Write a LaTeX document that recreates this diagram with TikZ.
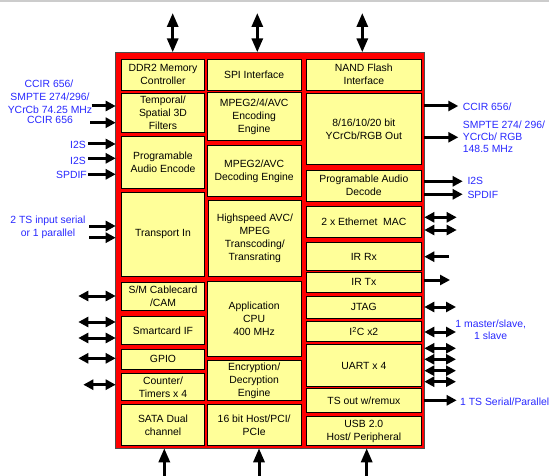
\documentclass[tikz,border=0pt]{standalone}
\usepackage{fontspec}
\setmainfont{Liberation Sans}
\usetikzlibrary{arrows.meta}
\definecolor{lblue}{RGB}{40,40,255}
\definecolor{byel}{RGB}{255,255,153}
\newcommand\blk[6]{\node[blk,minimum width={(#4-#2)*1pt},minimum height={(#5-#3)*1pt}] (#1) at ({(#2+#4)/2},{(#3+#5)/2}) {#6};}
\begin{document}
\begin{tikzpicture}[x=1pt,y=-1pt,
  txt/.style={font=\fontsize{10.4}{13}\selectfont},
  blk/.style={txt,draw=black,line width=0.8pt,fill=byel,align=center,inner sep=1pt,outer sep=0pt},
  lab/.style={txt,text=lblue,inner sep=0pt,align=center},
  ar/.style={line width=3pt,-{Triangle[length=10pt,width=10pt]}},
  dar/.style={line width=3pt,{Triangle[length=10pt,width=10pt]}-{Triangle[length=10pt,width=10pt]}},
  var/.style={line width=3pt,{Triangle[length=14pt,width=11pt]}-{Triangle[length=14pt,width=11pt]}}]
\useasboundingbox (0,0) rectangle (549,476);
\draw[black!20,line width=1.6pt] (0,0.8) -- (549,0.8);
% chip frame
\node[draw=black!70,line width=1pt,fill=red,minimum width=308.6pt,minimum height=396pt,inner sep=0pt,outer sep=0pt] (chip) at (270,250.3) {};
% left column
\blk{ddr}{121.7}{59}{204.3}{90}{DDR2 Memory\\Controller}
\blk{temp}{121.7}{93}{204.3}{132.3}{Temporal/\\Spatial 3D\\Filters}
\blk{aenc}{121.7}{136.7}{204.3}{188.3}{Programable\\Audio Encode}
\blk{tsin}{121.7}{192.3}{204.3}{276.7}{Transport In}
\blk{cam}{121.7}{282.7}{204.3}{310.7}{S/M Cablecard\\/CAM}
\blk{smart}{121.7}{316.7}{204.3}{344}{Smartcard IF}
\blk{gpio}{121.7}{349}{204.3}{369}{GPIO}
\blk{cnt}{121.7}{373}{204.3}{400.7}{Counter/\\Timers x 4}
\blk{sata}{121.7}{404.7}{204.3}{445}{SATA Dual\\channel}
% middle column
\blk{spi}{207.3}{59}{301}{90}{SPI Interface}
\blk{enc}{207.3}{92.7}{301}{140.7}{MPEG2/4/AVC\\Encoding\\Engine}
\blk{dec}{207.3}{145}{301}{196.7}{MPEG2/AVC\\Decoding Engine}
\blk{hs}{208.7}{200.7}{301}{276.7}{Highspeed AVC/\\MPEG\\Transcoding/\\Transrating}
\blk{cpu}{207.3}{281}{301}{356.7}{Application\\CPU\\400 MHz}
\blk{crypt}{207.3}{360.7}{301}{400.7}{Encryption/\\Decryption\\Engine}
\blk{host}{207.3}{404.7}{301}{445}{16 bit Host/PCI/\\PCIe}
% right column
\blk{nand}{306}{59}{421.7}{90}{NAND Flash\\Interface}
\blk{vout}{306}{93.3}{421.7}{164.3}{8/16/10/20 bit\\YCrCb/RGB Out}
\blk{adec}{306}{170}{421.7}{201}{Programable Audio\\Decode}
\blk{eth}{306}{206.7}{421.7}{237.7}{2 x Ethernet\ \ MAC}
\blk{irrx}{306}{242.7}{421.7}{270.3}{IR Rx}
\blk{irtx}{306}{272.7}{421.7}{292}{IR Tx}
\blk{jtag}{306}{296}{421.7}{318.3}{JTAG}
\blk{iic}{306}{321.7}{421.7}{341}{I\textsuperscript{2}C x2}
\blk{uart}{306}{344.3}{421.7}{386.7}{UART x 4}
\blk{tsout}{306}{388.7}{421.7}{412}{TS out w/remux}
\blk{usb}{306}{416.7}{421.7}{445.3}{USB 2.0\\Host/ Peripheral}
% top / bottom arrows
\coordinate (t1) at (172.7,13); \draw[var] (t1) -- (t1 |- chip.north);
\coordinate (t2) at (257.3,13); \draw[var] (t2) -- (t2 |- chip.north);
\coordinate (t3) at (362.3,13); \draw[var] (t3) -- (t3 |- chip.north);
\coordinate (b1) at (164.3,492); \draw[var] (b1) -- (b1 |- chip.south);
\coordinate (b2) at (259,492); \draw[var] (b2) -- (b2 |- chip.south);
\coordinate (b3) at (366.7,492); \draw[var] (b3) -- (b3 |- chip.south);
% left inputs
\coordinate (l1) at (91.7,106); \draw[ar] (l1) -- (l1 -| chip.west);
\coordinate (l2) at (90,122.7); \draw[ar] (l2) -- (l2 -| chip.west);
\coordinate (l3) at (88,144); \draw[ar] (l3) -- (l3 -| chip.west);
\coordinate (l4) at (88,158.3); \draw[ar] (l4) -- (l4 -| chip.west);
\coordinate (l5) at (88,174.3); \draw[ar] (l5) -- (l5 -| chip.west);
\coordinate (l6) at (89,226); \draw[ar] (l6) -- (l6 -| chip.west);
\coordinate (l7) at (89,237.7); \draw[ar] (l7) -- (l7 -| chip.west);
% left bidirectional
\coordinate (d1) at (78.3,296); \draw[dar] (d1) -- (d1 -| chip.west);
\coordinate (d2) at (78.3,322); \draw[dar] (d2) -- (d2 -| chip.west);
\coordinate (d3) at (78.3,338); \draw[dar] (d3) -- (d3 -| chip.west);
\coordinate (d4) at (78.3,358.3); \draw[dar] (d4) -- (d4 -| chip.west);
\coordinate (d5) at (83.3,384.7); \draw[dar] (d5) -- (d5 -| chip.west);
% right outputs
\coordinate (r1) at (458.3,106); \draw[ar] (r1 -| chip.east) -- (r1);
\coordinate (r2) at (458.3,137.3); \draw[ar] (r2 -| chip.east) -- (r2);
\coordinate (r3) at (462.7,181.3); \draw[ar] (r3 -| chip.east) -- (r3);
\coordinate (r4) at (462.7,194.3); \draw[ar] (r4 -| chip.east) -- (r4);
\coordinate (e1) at (456.7,217.3); \draw[dar] (e1 -| chip.east) -- (e1);
\coordinate (e2) at (456.7,230); \draw[dar] (e2 -| chip.east) -- (e2);
\coordinate (rx) at (449,256.7); \draw[ar] (rx) -- (rx -| chip.east);
\coordinate (tx) at (450,280); \draw[ar] (tx -| chip.east) -- (tx);
\coordinate (jt) at (456,307); \draw[dar] (jt -| chip.east) -- (jt);
\coordinate (ic) at (456,332); \draw[dar] (ic -| chip.east) -- (ic);
\coordinate (u1) at (456,348.3); \draw[dar] (u1 -| chip.east) -- (u1);
\coordinate (u2) at (456,359.3); \draw[dar] (u2 -| chip.east) -- (u2);
\coordinate (u3) at (456,370.7); \draw[dar] (u3 -| chip.east) -- (u3);
\coordinate (u4) at (456,381.7); \draw[dar] (u4 -| chip.east) -- (u4);
\coordinate (ts) at (456.7,400.3); \draw[ar] (ts -| chip.east) -- (ts);
% left labels
\node[lab] (ll1) at (49,83.3) {CCIR 656/};
\node[lab] (ll2) at (50,96.7) {SMPTE 274/296/};
\node[lab] (ll3) at (50,109.3) {YCrCb 74.25 MHz};
\node[lab] (ll4) at (50,120) {CCIR 656};
\node[lab,anchor=east] (ll5) at (86,145.3) {I2S};
\node[lab,anchor=east] (ll6) at (86,161) {I2S};
\node[lab,anchor=east] (ll7) at (87,174.7) {SPDIF};
\node[lab] (ll8) at (48,227.8) {2 TS input serial\\or 1 parallel};
% right labels
\node[lab,anchor=west] (rl1) at (462.7,106.7) {CCIR 656/};
\node[lab,anchor=west,align=left,font=\fontsize{10.4}{12.2}\selectfont] (rl2) at (462.7,136.5) {SMPTE 274/ 296/\\YCrCb/ RGB\\148.5 MHz};
\node[lab,anchor=west] (rl3) at (467.3,181.3) {I2S};
\node[lab,anchor=west] (rl4) at (467.3,195.3) {SPDIF};
\node[lab,font=\fontsize{10.4}{12.3}\selectfont] (rl5) at (490.7,329.8) {1 master/slave,\\1 slave};
\node[lab,anchor=west] (rl6) at (460,401.7) {1 TS Serial/Parallel};
\end{tikzpicture}
\end{document}
